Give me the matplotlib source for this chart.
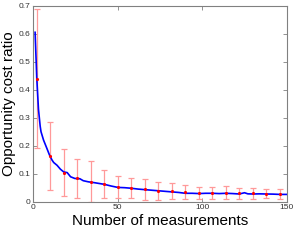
import numpy as np
import matplotlib
matplotlib.use('Agg')
import matplotlib.pyplot as plt

plt.rcParams['font.family'] = ['Liberation Sans', 'DejaVu Sans']

# mean curve
curve_x = [1, 2, 3, 4, 4.5, 6, 8, 9.5, 11, 12, 14, 16, 18, 20, 22, 24.5, 27.5, 29.5,
           32.5, 36, 42, 46, 50, 54, 58, 62, 66, 70, 74, 78, 82, 86, 90, 94, 98,
           102, 106, 110, 114, 118, 122, 125, 127, 130, 134, 138, 142, 146, 150]
curve_y = [0.605, 0.44, 0.33, 0.27, 0.25, 0.22, 0.19, 0.167, 0.149, 0.14, 0.13, 0.116,
           0.106, 0.104, 0.089, 0.083, 0.082, 0.075, 0.071, 0.068, 0.062, 0.056, 0.051,
           0.050, 0.048, 0.045, 0.043, 0.041, 0.039, 0.037, 0.035, 0.033, 0.030, 0.030,
           0.029, 0.030, 0.030, 0.029, 0.030, 0.029, 0.0275, 0.032, 0.028, 0.0275,
           0.028, 0.0275, 0.027, 0.026, 0.026]

# error bars
err_x = [2, 10, 18, 26, 34, 42, 50, 58, 66, 74, 82, 90, 98, 106, 114, 122, 130, 138, 146]
err_c = [0.44, 0.163, 0.104, 0.083, 0.071, 0.062, 0.052, 0.048, 0.044, 0.039, 0.037,
         0.034, 0.031, 0.031, 0.032, 0.030, 0.030, 0.029, 0.028]
err_e = [0.247, 0.12, 0.083, 0.07, 0.073, 0.05, 0.04, 0.036, 0.037, 0.033, 0.028,
         0.024, 0.021, 0.022, 0.023, 0.02, 0.02, 0.017, 0.017]

fig = plt.figure(figsize=(3.01, 2.43), dpi=100)
ax = fig.add_axes([0.111, 0.17, 0.8415, 0.8065])

ax.errorbar(err_x, err_c, yerr=err_e, fmt='none', ecolor=(1, 0.6, 0.6),
            elinewidth=0.9, capsize=2.5, capthick=0.9, zorder=2)
ax.plot(curve_x, curve_y, color='blue', lw=1.2, zorder=3)
ax.plot(err_x, err_c, '.', color='red', ms=2.5, zorder=4)

ax.set_xlim(0, 150)
ax.set_ylim(0, 0.7)
ax.set_xticks([0, 50, 100, 150])
ax.set_yticks([0, 0.1, 0.2, 0.3, 0.4, 0.5, 0.6, 0.7])
ax.set_yticklabels(['0', '0.1', '0.2', '0.3', '0.4', '0.5', '0.6', '0.7'])
ax.tick_params(direction='in', length=3, width=0.6, color='#808080',
               labelsize=6, labelcolor='#333333', top=True, right=True, pad=2)
for s in ax.spines.values():
    s.set_color('#808080')
    s.set_linewidth(0.8)

ax.set_xlabel('Number of measurements', fontsize=11, labelpad=2)
ax.set_ylabel('Opportunity cost ratio', fontsize=11, labelpad=2)

fig.savefig('out.png', dpi=100)
